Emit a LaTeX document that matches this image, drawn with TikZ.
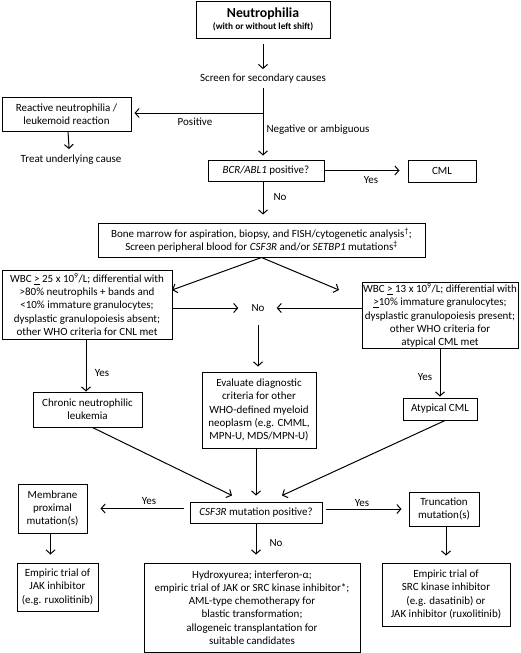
\documentclass[tikz,border=0pt]{standalone}
\usepackage{fontspec}
\setmainfont{Carlito}
\usetikzlibrary{arrows.meta,calc}
\newcommand\myfs{\fontsize{11}{13.2}\selectfont}
\begin{document}
\begin{tikzpicture}[x=1pt,y=-1pt,
  box/.style={draw,line width=1pt,align=center,inner sep=1pt,font=\myfs},
  lbl/.style={font=\myfs,inner sep=0pt,align=center},
  arr/.style={line width=1pt,-{Straight Barb[length=4pt,width=9pt]}},
  ln/.style={line width=1pt}]
\useasboundingbox (0,0) rectangle (520,653);

% nodes
\node[box,minimum width=134pt,minimum height=37pt] (neut) at (263,19.5)
  {{\fontsize{13.8}{15}\selectfont\bfseries Neutrophilia}\\[-1pt]{\fontsize{9.3}{11}\selectfont\bfseries (with or without left shift)}};
\node[lbl] (screen) at (263,79) {Screen for secondary causes};
\coordinate (br) at (263,113);
\node[box,minimum width=129pt,minimum height=34pt] (react) at (66.5,114)
  {Reactive neutrophilia /\\leukemoid reaction};
\node[lbl] (treat) at (71,160) {Treat underlying cause};
\node[lbl] at (195,122) {Positive};
\node[lbl] at (318,130) {Negative or ambiguous};
\node[box,minimum width=116pt,minimum height=21pt] (bcr) at (266,170.5)
  {\textit{BCR/ABL1} positive?};
\node[box,minimum width=68pt,minimum height=22pt] (cml) at (442,171) {CML};
\node[lbl] at (371,180) {Yes};
\node[lbl] at (280,197) {No};
\node[box,minimum width=327pt,minimum height=34pt] (bm) at (261.5,240)
  {Bone marrow for aspiration, biopsy, and FISH/cytogenetic analysis\textsuperscript{†};\\
   Screen peripheral blood for \textit{CSF3R} and/or \textit{SETBP1} mutations\textsuperscript{‡}};
\coordinate (dl) at (172,290);
\coordinate (dr) at (339,290);
\node[box,minimum width=170pt,minimum height=69pt] (wbcL) at (87,304.5)
  {WBC \underline{>} 25 x 10\textsuperscript{9}/L; differential with\\
   >80\% neutrophils + bands and\\
   <10\% immature granulocytes;\\
   dysplastic granulopoiesis absent;\\
   other WHO criteria for CNL met};
\node[box,minimum width=156pt,minimum height=65pt] (wbcR) at (440,315.5)
  {WBC \underline{>} 13 x 10\textsuperscript{9}/L; differential with\\
   \underline{>}10\% immature granulocytes;\\
   dysplastic granulopoiesis present;\\
   other WHO criteria for\\
   atypical CML met};
\node[lbl] (noM) at (258,308) {No};
\node[box,minimum width=109pt,minimum height=35pt] (cnl) at (87.5,409.5)
  {Chronic neutrophilic\\leukemia};
\node[box,minimum width=114pt,minimum height=76pt] (eval) at (259,410)
  {Evaluate diagnostic\\criteria for other\\WHO-defined myeloid\\neoplasm (e.g. CMML,\\MPN-U, MDS/MPN-U)};
\node[box,minimum width=74pt,minimum height=22pt] (acml) at (440,409) {Atypical CML};
\node[lbl] at (102,373) {Yes};
\node[lbl] at (425,377) {Yes};
\node[box,minimum width=132pt,minimum height=21pt] (csf) at (256,512.5)
  {\textit{CSF3R} mutation positive?};
\node[box,minimum width=69pt,minimum height=49pt] (memb) at (52.5,508.5)
  {Membrane\\proximal\\mutation(s)};
\node[box,minimum width=70pt,minimum height=34pt] (trunc) at (444,509)
  {Truncation\\mutation(s)};
\node[lbl] at (149,501) {Yes};
\node[lbl] at (362,503) {Yes};
\node[lbl] at (276,543) {No};
\node[box,minimum width=81pt,minimum height=48pt] (jak) at (57.5,587)
  {Empiric trial of\\JAK inhibitor\\(e.g. ruxolitinib)};
\node[box,minimum width=216pt,minimum height=89pt] (hydro) at (252,607.5)
  {Hydroxyurea; interferon-α;\\
   empiric trial of JAK or SRC kinase inhibitor*;\\
   AML-type chemotherapy for\\
   blastic transformation;\\
   allogeneic transplantation for\\
   suitable candidates};
\node[box,minimum width=128pt,minimum height=63pt] (src) at (446,594.5)
  {Empiric trial of\\SRC kinase inhibitor\\(e.g. dasatinib) or\\JAK inhibitor (ruxolitinib)};

% connectors
\draw[arr,shorten <=5pt,shorten >=5pt] (neut.south) -- (screen.north);
\draw[arr,shorten <=4pt,shorten >=4pt] (screen.south) -- (screen.south |- bcr.north);
\draw[arr,shorten >=3pt] (br) -- (react.east |- br);
\draw[arr,shorten >=6pt] ([xshift=1.5pt]react.south) -- ([xshift=-1.5pt]treat.north);
\draw[arr,shorten >=8pt] (bcr.east) -- (bcr.east -| cml.west);
\draw[arr,shorten >=8pt] (screen.south |- bcr.south) -- (screen.south |- bm.north);
\draw[arr] (bm.south) -- (dl);
\draw[arr] (bm.south) -- (dr);
\draw[arr,shorten >=13pt] (wbcL.east |- noM.west) -- (noM.west);
\draw[arr,shorten >=12pt] (wbcR.west |- noM.east) -- (noM.east);
\draw[arr,shorten <=13pt,shorten >=5pt] (noM.south) -- (noM.south |- eval.north);
\draw[arr] ([xshift=-1pt]wbcL.south) -- ([xshift=-1pt]wbcL.south |- cnl.north);
\draw[arr,shorten >=1pt] (wbcR.south) -- (wbcR.south |- acml.north);
\draw[arr] ([xshift=5pt]cnl.south) -- ([xshift=-24pt,yshift=6pt]csf.north);
\draw[arr,shorten >=6pt] (csf.north |- eval.south) -- (csf.north);
\draw[arr] ([xshift=5pt]acml.south) -- ([xshift=26pt,yshift=6pt]csf.north);
\draw[arr,shorten <=6pt,shorten >=13pt] (csf.west |- memb.east) -- (memb.east);
\draw[arr,shorten <=3pt,shorten >=7pt] (csf.east |- trunc.west) -- (trunc.west);
\draw[arr,shorten >=8pt] ([xshift=-2pt]memb.south) -- ([xshift=-2pt]memb.south |- jak.north);
\draw[arr,shorten >=8pt] (csf.south) -- (csf.south |- hydro.north);
\draw[arr,shorten >=7pt] ([xshift=2pt]trunc.south) -- ([xshift=2pt]trunc.south |- src.north);
\end{tikzpicture}
\end{document}
